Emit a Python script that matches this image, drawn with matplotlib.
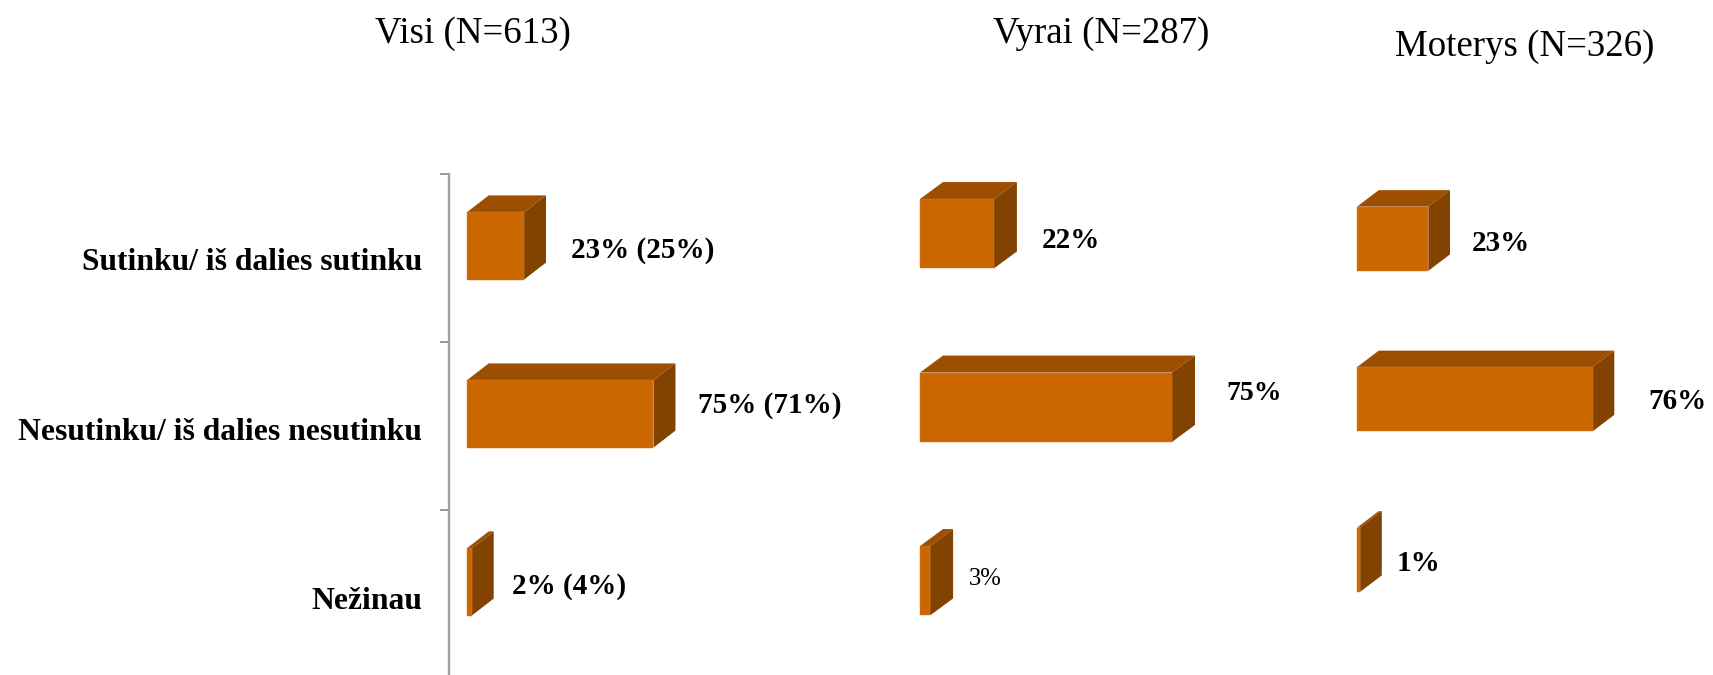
import matplotlib
matplotlib.use("Agg")
import matplotlib.pyplot as plt
from matplotlib.patches import Polygon
from matplotlib.transforms import ScaledTranslation

plt.rcParams['font.family'] = ['Liberation Serif', 'DejaVu Serif']

categories = ["Sutinku/ iš dalies sutinku", "Nesutinku/ iš dalies nesutinku", "Nežinau"]
titles = ["Visi (N=613)", "Vyrai (N=287)", "Moterys (N=326)"]
visi = [23, 75, 2]
vyrai = [22, 75, 3]
moterys = [23, 76, 1]
visi_labels = ["23% (25%)", "75% (71%)", "2% (4%)"]
vyrai_labels = ["22%", "75%", "3%"]
moterys_labels = ["23%", "76%", "1%"]

W, H = 1713, 675
FRONT, TOP, SIDE, EDGE = "#CC6600", "#9C4F00", "#824200", "#D4813A"

# Layout, in reference pixels
panels = [
    dict(values=visi, labels=visi_labels, left=449.3, right=715.7, top=174, bottom=678, x0=-7, x1=100,
         shift=-12, dx=[47.5, 45, 40], dy=[4.5, -9, 4.5], weights=["bold"] * 3, sizes=[21, 21, 21],
         title_xy=(473, 33.3), depth=(22, 17)),
    dict(values=vyrai, labels=vyrai_labels, left=920, right=1256, top=147, bottom=667.5, x0=0, x1=100,
         shift=0, dx=[48, 54.5, 39], dy=[6.7, -13.3, -1.3], weights=["bold", "bold", "normal"], sizes=[21, 20, 17.8],
         title_xy=(1101, 33.3), depth=(23, 17)),
    dict(values=moterys, labels=moterys_labels, left=1357, right=1667, top=158.5, bottom=640, x0=0, x1=100,
         shift=0, dx=[43, 56, 37], dy=[4.7, 2.7, 4.2], weights=["bold"] * 3, sizes=[21, 21, 21],
         title_xy=(1525, 47), depth=(21.7, 16.5)),
]
BAR_H = 0.4
category_nudge = [1.1, 3.3, 4.4]

fig = plt.figure(figsize=(W / 100, H / 100), dpi=100, facecolor="white")
PT = 72 / 100  # points per pixel

for i, p in enumerate(panels):
    ax = fig.add_axes([p["left"] / W, 1 - p["bottom"] / H,
                       (p["right"] - p["left"]) / W, (p["bottom"] - p["top"]) / H])
    ax.set_xlim(p["x0"], p["x1"])
    ax.set_ylim(2.5, -0.5)
    ax.patch.set_alpha(0)
    for s in ax.spines.values():
        s.set_visible(False)
    px_x = (p["right"] - p["left"]) / (p["x1"] - p["x0"])
    px_y = (p["bottom"] - p["top"]) / 3
    ddx, ddy = p["depth"][0] / px_x, p["depth"][1] / px_y
    off = p["shift"] / px_y
    for k, v in enumerate(p["values"]):
        yc = k + off
        t, b = yc - BAR_H / 2, yc + BAR_H / 2
        ax.add_patch(Polygon([(0, t), (v, t), (v + ddx, t - ddy), (ddx, t - ddy)],
                             closed=True, fc=TOP, ec="none", clip_on=False))
        ax.add_patch(Polygon([(v, t), (v + ddx, t - ddy), (v + ddx, b - ddy), (v, b)],
                             closed=True, fc=SIDE, ec="none", clip_on=False))
        ax.barh(yc, v, height=BAR_H, color=FRONT, edgecolor=EDGE, linewidth=0.35, clip_on=False)
        ax.annotate(p["labels"][k], xy=(v, yc), xytext=(p["dx"][k] * PT, -p["dy"][k] * PT),
                    textcoords="offset points", ha="left", va="center",
                    fontsize=p["sizes"][k], fontweight=p["weights"][k], color="black",
                    annotation_clip=False)
    fig.text(p["title_xy"][0] / W, 1 - p["title_xy"][1] / H, titles[i], ha="center", va="center",
             fontsize=26.6, color="black")
    if i == 0:
        ax.spines["left"].set_visible(True)
        ax.spines["left"].set_color("#A0A0A0")
        ax.spines["left"].set_linewidth(1.7)
        ax.set_yticks([-0.5, 0.5, 1.5])
        ax.set_yticklabels([])
        ax.tick_params(axis="y", which="major", length=6.5, width=1.3, color="#909090")
        ax.set_yticks([0, 1, 2], minor=True)
        ax.set_yticklabels(categories, minor=True, fontsize=22.8, fontweight="bold")
        ax.tick_params(axis="y", which="minor", length=0, pad=19.8)
        for lab, d in zip(ax.get_yticklabels(minor=True), category_nudge):
            lab.set_transform(lab.get_transform() + ScaledTranslation(0, -d / 100, fig.dpi_scale_trans))
    else:
        ax.set_yticks([])
    ax.set_xticks([])

fig.savefig("out.png", dpi=100, facecolor="white")
